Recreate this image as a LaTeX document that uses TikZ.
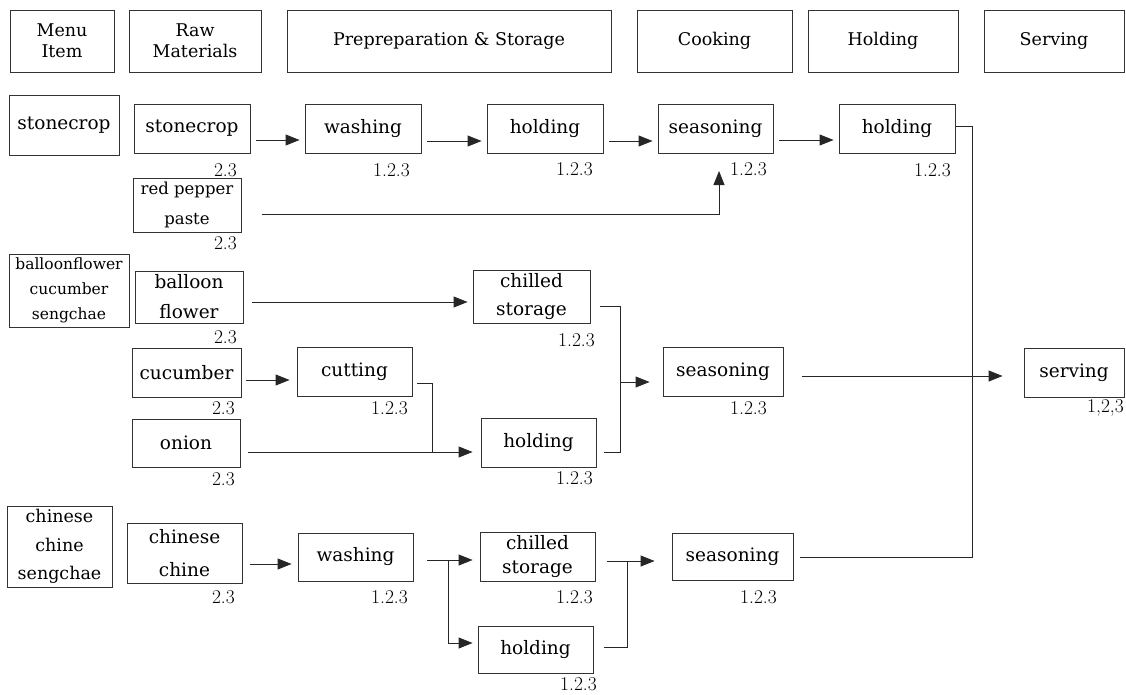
\documentclass[tikz,border=0pt]{standalone}
\usepackage{fontspec}
\newfontfamily\djv{DejaVu Serif}
\usetikzlibrary{arrows.meta}
\newcommand\mkbox[7][]{\node[bx,#1,minimum width={#5-#3},minimum height={#6-#4}] (#2) at ({(#3+#5)/2},{(#4+#6)/2}) {#7};}
\begin{document}
\begin{tikzpicture}[x=1pt,y=-1pt,
  bx/.style={draw=black!80, line width=0.9pt, inner sep=1pt, align=center, font=\djv\fontsize{18.5}{30}\selectfont},
  hd/.style={font=\djv\fontsize{17.5}{21}\selectfont},
  sm/.style={font=\djv\fontsize{15.5}{25}\selectfont},
  md/.style={font=\djv\fontsize{17.5}{28.5}\selectfont},
  num/.style={anchor=east, inner sep=0pt, font=\fontsize{19.5}{20}\selectfont},
  ln/.style={draw=black!85, line width=0.9pt},
  arr/.style={ln, -{Triangle[length=14pt,width=11pt]}, shorten <=6pt, shorten >=5pt}
]
\useasboundingbox (0,0) rectangle (1126,694);

% headers
\mkbox[hd]{hMenu}{10}{10}{114}{72}{Menu\\Item}
\mkbox[hd]{hRaw}{129}{10}{261}{72}{Raw\\Materials}
\mkbox[hd]{hPrep}{287}{10}{611}{72}{Prepreparation \& Storage}
\mkbox[hd]{hCook}{637}{10}{792}{72}{Cooking}
\mkbox[hd]{hHold}{808}{10}{958}{72}{Holding}
\mkbox[hd]{hServ}{984}{10}{1124}{72}{Serving}

% row 1: stonecrop
\mkbox{mStone}{9}{95}{119}{155}{stonecrop}
\mkbox{rStone}{134}{104}{250}{153}{stonecrop}
\mkbox{wash1}{305}{104}{421}{153}{washing}
\mkbox{hold1}{487}{104}{603}{153}{holding}
\mkbox{seas1}{658}{104}{773}{153}{seasoning}
\mkbox{hold1b}{839}{104}{955}{153}{holding}
\mkbox[font=\djv\fontsize{16.5}{30}\selectfont]{rPep}{133}{178}{241}{232}{red pepper\\paste}

% balloonflower / cucumber / onion
\mkbox[sm]{mBal}{9}{254}{129}{327}{balloonflower\\cucumber\\sengchae}
\mkbox{rBal}{135}{271}{243}{323}{balloon\\flower}
\mkbox[font=\djv\fontsize{18.5}{28}\selectfont]{chill2}{473}{270}{590}{323}{chilled\\storage}
\mkbox{rCuc}{132}{348}{241}{397}{cucumber}
\mkbox{cut}{297}{347}{412}{396}{cutting}
\mkbox{seas2}{663}{347}{783}{396}{seasoning}
\mkbox{serv}{1024}{348}{1124}{397}{serving}
\mkbox{rOni}{132}{419}{240}{467}{onion}
\mkbox{hold2}{481}{418}{596}{467}{holding}

% chinese chine
\mkbox[md]{mChi}{7}{506}{112}{587}{chinese\\chine\\sengchae}
\mkbox[font=\djv\fontsize{18.5}{33}\selectfont]{rChi}{127}{523}{242}{583}{chinese\\chine}
\mkbox{wash3}{298}{533}{413}{581}{washing}
\mkbox[font=\djv\fontsize{18.5}{24}\selectfont]{chill3}{480}{532}{595}{581}{chilled\\storage}
\mkbox{hold3}{478}{626}{593}{673}{holding}
\mkbox{seas3}{672}{533}{793}{580}{seasoning}

% numbers
\node[num] (n1) at (237,170) {2.3};
\node[num] (n2) at (410,170) {1.2.3};
\node[num] (n3) at (593,169) {1.2.3};
\node[num] (n4) at (767,169) {1.2.3};
\node[num] (n5) at (951,170) {1.2.3};
\node[num] (n6) at (237,243) {2.3};
\node[num] (n7) at (237,337) {2.3};
\node[num] (n8) at (595,340) {1.2.3};
\node[num] (n9) at (235,408) {2.3};
\node[num] (n10) at (408,408) {1.2.3};
\node[num] (n11) at (767,408) {1.2.3};
\node[num] (n12) at (1124,408) {1,2,3};
\node[num] (n13) at (235,479) {2.3};
\node[num] (n14) at (593,478) {1.2.3};
\node[num] (n15) at (235,597) {2.3};
\node[num] (n16) at (408,597) {1.2.3};
\node[num] (n17) at (593,597) {1.2.3};
\node[num] (n18) at (777,597) {1.2.3};
\node[num] (n19) at (597,684) {1.2.3};

% row 1 connectors
\draw[arr] ([yshift=-11.5pt]rStone.east) coordinate (a0) -- (wash1.west |- a0);
\draw[arr] ([yshift=-12.5pt]wash1.east) coordinate (a1) -- (hold1.west |- a1);
\draw[arr] ([yshift=-12.5pt]hold1.east) coordinate (a2) -- (seas1.west |- a2);
\draw[arr] ([yshift=-11.5pt]seas1.east) coordinate (a3) -- (hold1b.west |- a3);
\coordinate (pepTip) at (719,171);
\draw[arr, shorten <=21pt, shorten >=0pt] ([yshift=-9pt]rPep.east) -| (pepTip);

% balloon / cucumber / onion connectors
\draw[arr, shorten <=9pt] ([yshift=-5pt]rBal.east) coordinate (b0) -- (chill2.west |- b0);
\draw[arr, shorten <=5pt, shorten >=7pt] ([yshift=-7.5pt]rCuc.east) coordinate (u0) -- (cut.west |- u0);
\coordinate (j2) at (432,452);
\draw[ln, shorten <=5pt] ([yshift=-11.5pt]cut.east) -| (j2);
\draw[arr, shorten <=8pt, shorten >=8pt] ([yshift=-9pt]rOni.east) coordinate (o0) -- (hold2.west |- o0);
\coordinate (j1) at (620,382);
\draw[ln, shorten <=10pt] ([yshift=-9.5pt]chill2.east) -| (j1);
\draw[ln, shorten <=8pt] ([yshift=-9.5pt]hold2.east) -| (j1);
\draw[arr, shorten <=0pt, shorten >=13pt] (j1) -- (seas2.west |- j1);
\draw[arr, shorten <=19pt, shorten >=21pt] ([yshift=-4.5pt]seas2.east) coordinate (s0) -- (serv.west |- s0);

% chinese connectors
\draw[arr, shorten <=8pt, shorten >=6pt] ([yshift=-11pt]rChi.east) coordinate (c0) -- (wash3.west |- c0);
\draw[arr, shorten <=14pt, shorten >=7pt] ([yshift=-3pt]wash3.east) coordinate (c1) -- (chill3.west |- c1);
\coordinate (c2) at (448,560);
\draw[arr, shorten <=0pt, shorten >=5pt] (c2) |- ([yshift=6.5pt]hold3.west);
\coordinate (j3) at (627,561);
\draw[ln, shorten <=12pt] ([yshift=-4.5pt]chill3.east) -| (j3);
\draw[ln, shorten <=11pt] ([yshift=2.5pt]hold3.east) -| (j3);
\draw[arr, shorten <=0pt, shorten >=17pt] (j3) -- (seas3.west |- j3);

% right collector line
\coordinate (v1) at (972,126);
\coordinate (v2) at (972,557);
\draw[ln, shorten <=1pt, shorten >=7pt] (v1 -| hold1b.east) -- (v1) -- (v2) -- (v2 -| seas3.east);
\end{tikzpicture}
\end{document}
